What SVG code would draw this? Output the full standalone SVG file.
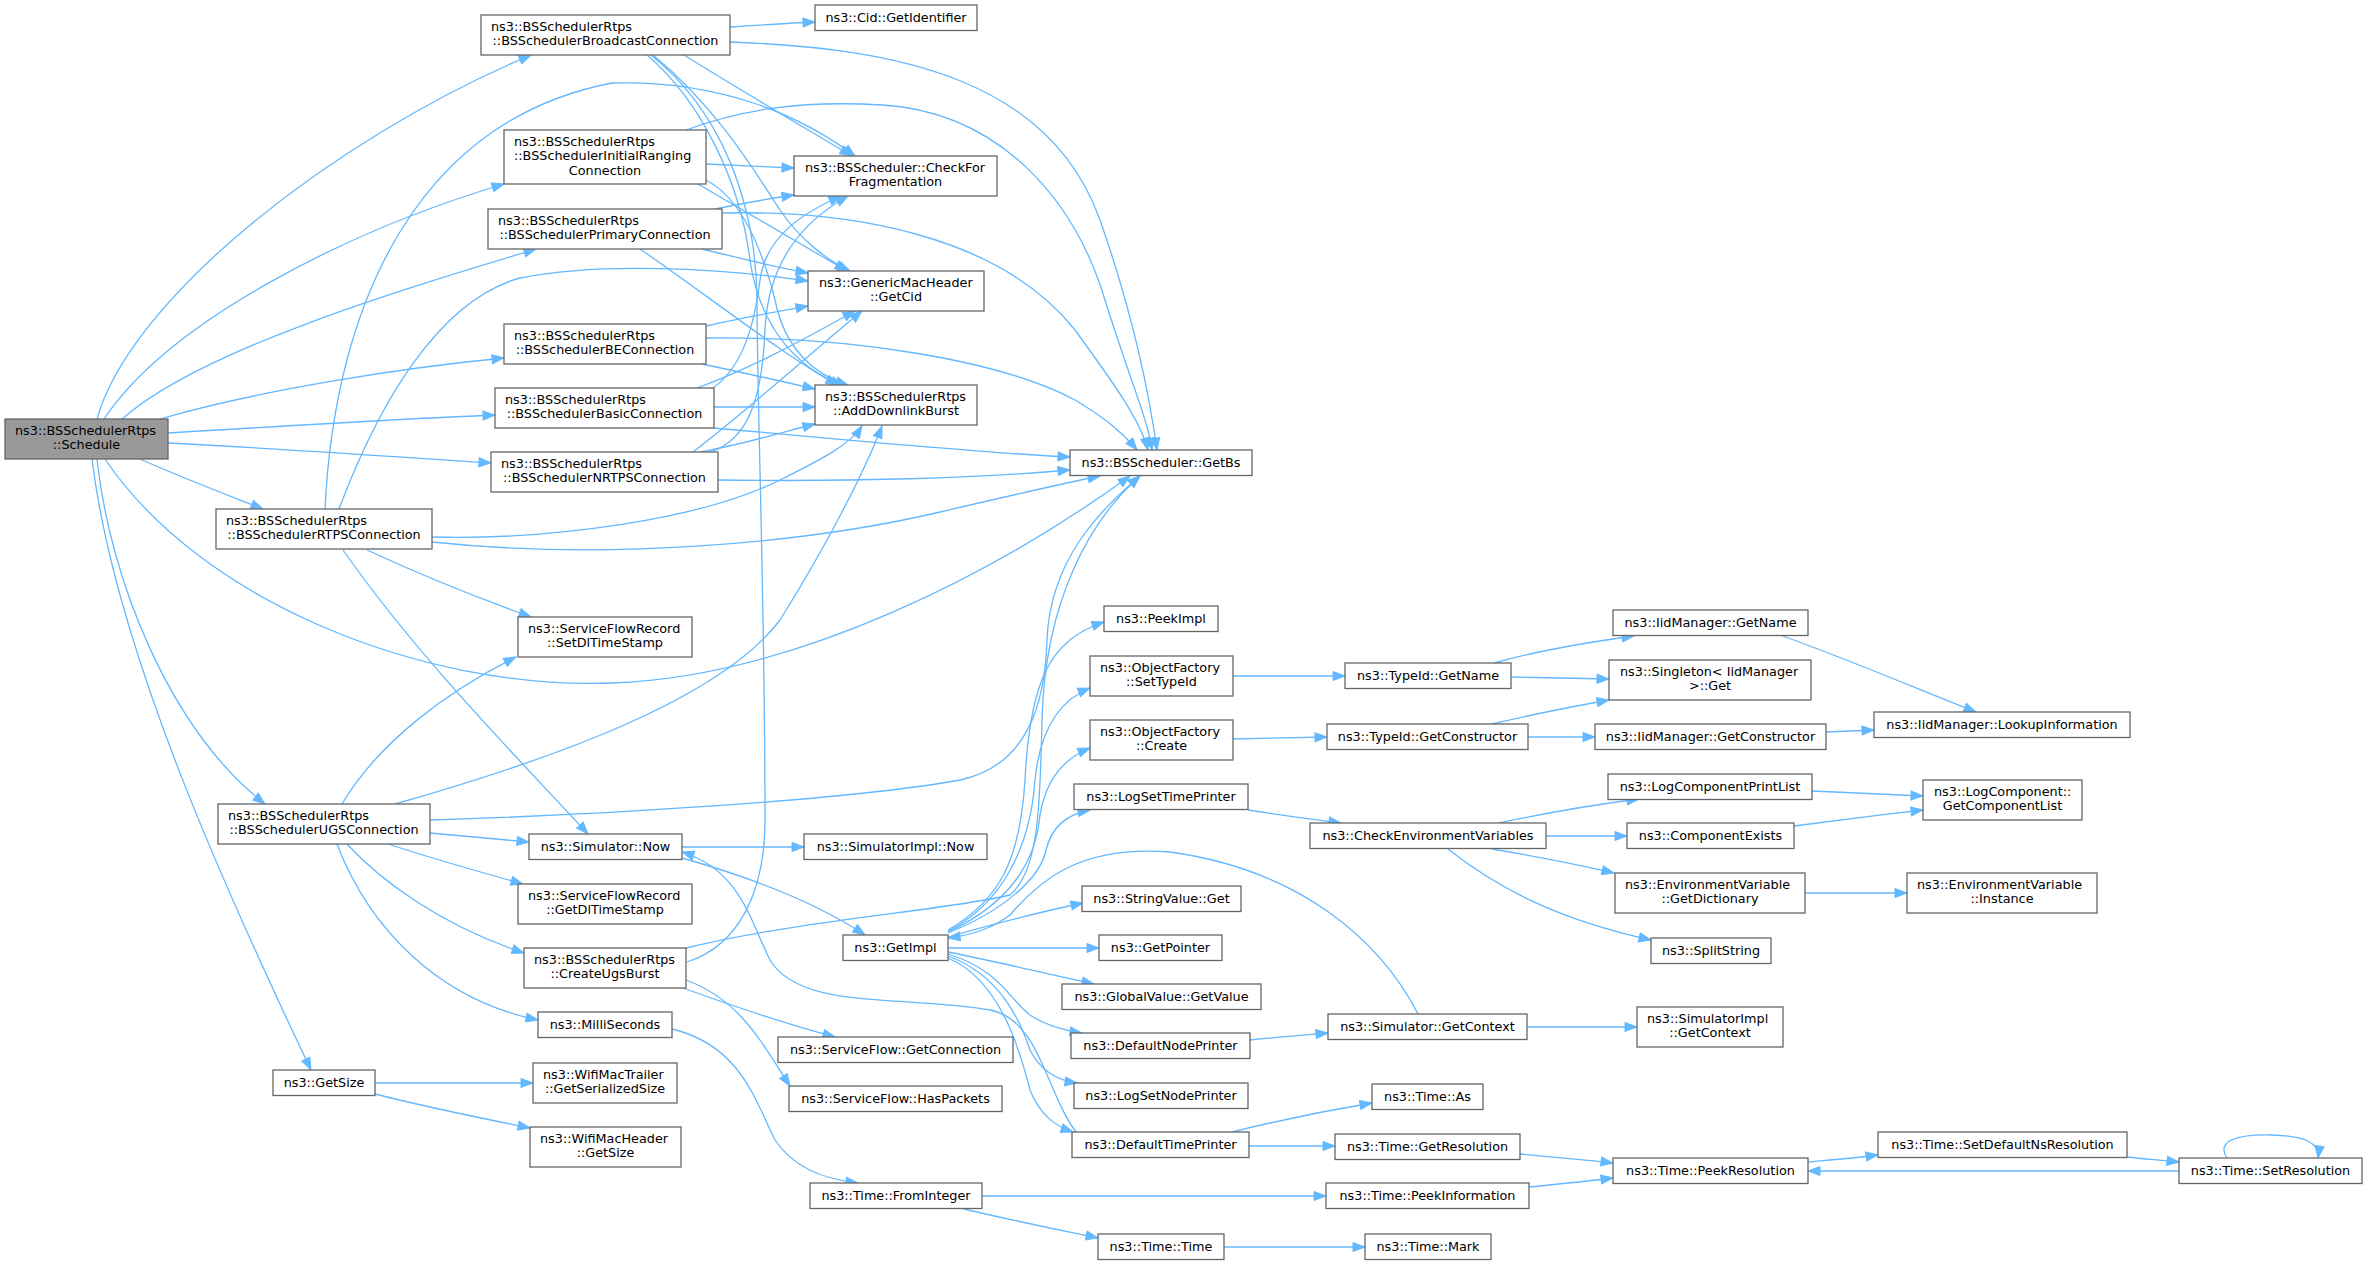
<svg xmlns="http://www.w3.org/2000/svg" width="2368" height="1264" viewBox="0 0 2368 1264">
<style>
.n rect{fill:#ffffff;stroke:#666666;stroke-width:1.3}
.n.root rect{fill:#999999}
.n text{font-family:"DejaVu Sans",sans-serif;font-size:12.8px;fill:#000000}
.n text.c{text-anchor:middle}
.e path{fill:none;stroke:#63b8ff;stroke-width:1.3;marker-end:url(#a)}
.e path.plain{marker-end:none}
</style>
<defs>
<marker id="a" markerUnits="userSpaceOnUse" viewBox="0 0 12 9" markerWidth="12" markerHeight="9" refX="12" refY="4.5" orient="auto" overflow="visible"><path d="M0,0 L12,4.5 L0,9 z" fill="#63b8ff" stroke="#63b8ff" stroke-width="1"/></marker>
</defs>
<rect width="2368" height="1264" fill="#ffffff"/>
<g id="edges" class="e">
<path d="M97,419 C130,300 330,140 531,55"/>
<path d="M104,419 C170,320 350,230 504,184"/>
<path d="M122,419 C200,350 400,290 536,249"/>
<path d="M160,419 C260,390 400,368 504,358"/>
<path d="M168,433 C300,425 400,419 495,415"/>
<path d="M168,443 C300,450 400,457 491,463"/>
<path d="M140,459 C180,477 225,494 263,509"/>
<path d="M97,459 C110,580 170,730 265,804"/>
<path d="M92,459 C115,650 230,900 311,1070"/>
<path d="M105,459 C200,600 420,690 612,683 C800,676 1000,570 1130,476"/>
<path d="M730,27 C760,25 790,23 815,22"/>
<path d="M730,42 C900,48 1050,80 1100,220 C1135,320 1150,400 1157,450"/>
<path d="M684,55 C740,90 800,125 852,156"/>
<path d="M653,55 C720,110 760,180 780,210 C800,240 830,262 850,271"/>
<path d="M647,55 C700,100 740,180 750,260 C760,330 800,370 843,385"/>
<path class="plain" d="M687,962 C740,945 765,890 765,820 C765,600 757,400 757,300 C756,200 720,110 651,55"/>
<path d="M706,164 L794,168"/>
<path d="M686,130 C740,110 800,100 882,105 C1000,112 1075,200 1105,300 C1130,380 1148,420 1152,450"/>
<path d="M698,184 C760,220 820,255 847,271"/>
<path d="M706,180 C745,200 765,260 775,300 C785,350 815,375 848,385"/>
<path d="M715,209 C740,204 765,199 794,195"/>
<path d="M722,213 C850,210 1000,235 1075,330 C1115,385 1140,420 1148,450"/>
<path d="M702,249 C740,258 770,266 808,273"/>
<path d="M640,249 C700,290 790,360 838,385"/>
<path d="M706,326 C740,318 775,312 808,306"/>
<path d="M706,338 C850,336 1000,360 1075,400 C1105,418 1122,432 1137,450"/>
<path d="M702,364 C740,372 780,381 815,389"/>
<path d="M713,388 C745,365 755,320 760,280 C766,235 805,212 841,196"/>
<path d="M697,388 C760,365 820,330 855,311"/>
<path d="M714,407 L815,407"/>
<path d="M714,428 C850,440 980,453 1070,457"/>
<path d="M710,452 C748,440 762,400 765,330 C768,260 805,220 848,196"/>
<path d="M693,452 C760,400 820,345 862,311"/>
<path d="M700,452 C740,445 780,433 815,424"/>
<path d="M718,480 C850,482 980,478 1070,470"/>
<path d="M325,509 C335,300 420,120 612,83 C720,80 800,115 855,156"/>
<path d="M339,509 C380,400 440,300 520,278 C600,262 720,268 808,281"/>
<path d="M432,537 C550,540 700,520 780,480 C820,460 850,445 862,426"/>
<path d="M432,542 C600,560 800,545 940,512 C1000,498 1060,484 1100,476"/>
<path d="M367,550 C410,570 470,595 531,617"/>
<path d="M343,550 C420,660 520,760 588,834"/>
<path d="M342,804 C380,740 450,690 516,657"/>
<path d="M395,804 C550,760 720,700 780,620 C830,540 865,470 882,426"/>
<path d="M430,820 C600,815 850,800 960,780 C1030,765 1045,700 1047,640 C1050,560 1100,510 1140,476"/>
<path d="M430,833 L529,842"/>
<path d="M388,844 C430,858 480,872 523,884"/>
<path d="M347,844 C380,880 440,925 524,953"/>
<path d="M337,844 C370,930 440,1000 538,1020"/>
<path d="M682,847 L804,847"/>
<path d="M682,858 C760,880 820,905 865,935"/>
<path d="M686,948 C800,920 950,910 1010,895 C1040,870 1040,800 1042,720 C1045,600 1090,520 1140,476"/>
<path d="M683,988 C730,1005 790,1025 835,1037"/>
<path d="M686,980 C740,1000 760,1040 790,1086"/>
<path d="M672,1029 C740,1045 755,1100 775,1140 C795,1170 830,1180 858,1183"/>
<path d="M375,1083 L533,1083"/>
<path d="M375,1094 C430,1108 480,1118 530,1128"/>
<path d="M948,930 C1000,900 1020,860 1025,780 C1030,680 1050,640 1104,622"/>
<path d="M948,931 C1000,905 1030,850 1035,780 C1040,730 1060,700 1090,688"/>
<path d="M948,932 C1000,908 1035,870 1040,815 C1045,785 1060,760 1090,748"/>
<path d="M948,933 C1000,912 1040,880 1046,850 C1052,825 1068,814 1090,810"/>
<path d="M948,937 C990,925 1040,912 1083,903"/>
<path d="M948,948 L1099,948"/>
<path d="M948,952 C1000,962 1050,975 1094,984"/>
<path d="M948,954 C1000,970 1010,1000 1030,1015 C1045,1025 1060,1030 1082,1033"/>
<path d="M948,956 C1000,975 1020,1020 1030,1050 C1040,1070 1055,1080 1077,1083"/>
<path d="M948,958 C1000,980 1020,1050 1030,1090 C1040,1115 1055,1126 1073,1132"/>
<path d="M1418,1014 C1380,940 1300,870 1170,852 C1080,845 1040,880 1010,915 C990,930 970,935 948,938"/>
<path d="M1076,1132 C1045,1090 1040,1020 990,1010 C900,995 800,1010 770,960 C750,920 740,870 682,852"/>
<path d="M1233,676 L1345,676"/>
<path d="M1233,739 L1327,737"/>
<path d="M1494,663 C1540,650 1590,642 1634,636"/>
<path d="M1511,677 L1609,679"/>
<path d="M1492,724 C1530,715 1570,707 1609,700"/>
<path d="M1528,737 L1595,737"/>
<path d="M1780,635 C1850,660 1920,690 1976,712"/>
<path d="M1826,732 L1874,730"/>
<path d="M1248,810 C1280,815 1310,819 1341,823"/>
<path d="M1499,823 C1550,812 1600,804 1639,799"/>
<path d="M1546,836 L1627,836"/>
<path d="M1492,849 C1540,857 1580,865 1614,873"/>
<path d="M1448,849 C1500,890 1560,920 1651,940"/>
<path d="M1812,791 L1923,796"/>
<path d="M1794,826 C1840,820 1880,815 1923,810"/>
<path d="M1805,893 L1907,893"/>
<path d="M1250,1040 C1280,1037 1305,1035 1328,1033"/>
<path d="M1527,1027 L1637,1027"/>
<path d="M1232,1132 C1280,1120 1330,1110 1372,1103"/>
<path d="M1249,1146 L1335,1146"/>
<path d="M1520,1154 C1560,1158 1590,1160 1613,1163"/>
<path d="M1529,1187 C1560,1184 1590,1181 1613,1178"/>
<path d="M982,1196 L1326,1196"/>
<path d="M964,1209 C1010,1220 1060,1230 1098,1238"/>
<path d="M1224,1247 L1365,1247"/>
<path d="M1808,1162 C1830,1160 1855,1158 1878,1155"/>
<path d="M2127,1157 C2145,1159 2160,1160 2179,1162"/>
<path d="M2179,1171 L1808,1171"/>
<path d="M2227,1158 C2215,1140 2240,1134 2272,1135 C2305,1136 2320,1143 2318,1158"/>
</g>
<g id="n_schedule" class="n root"><rect x="5" y="419" width="163" height="40"/><text x="15" y="434.7">ns3::BSSchedulerRtps</text><text class="c" x="86.5" y="449.3">::Schedule</text></g>
<g id="n_broadcast" class="n"><rect x="481" y="15" width="249" height="40"/><text x="491" y="30.7">ns3::BSSchedulerRtps</text><text class="c" x="605.5" y="45.3">::BSSchedulerBroadcastConnection</text></g>
<g id="n_initranging" class="n"><rect x="504" y="130" width="202" height="54"/><text x="514" y="145.7">ns3::BSSchedulerRtps</text><text x="514" y="160.3">::BSSchedulerInitialRanging</text><text class="c" x="605" y="175">Connection</text></g>
<g id="n_primary" class="n"><rect x="488" y="209" width="234" height="40"/><text x="498" y="224.7">ns3::BSSchedulerRtps</text><text class="c" x="605" y="239.3">::BSSchedulerPrimaryConnection</text></g>
<g id="n_be" class="n"><rect x="504" y="324" width="202" height="40"/><text x="514" y="339.7">ns3::BSSchedulerRtps</text><text class="c" x="605" y="354.3">::BSSchedulerBEConnection</text></g>
<g id="n_basic" class="n"><rect x="495" y="388" width="219" height="40"/><text x="505" y="403.7">ns3::BSSchedulerRtps</text><text class="c" x="604.5" y="418.3">::BSSchedulerBasicConnection</text></g>
<g id="n_nrtps" class="n"><rect x="491" y="452" width="227" height="40"/><text x="501" y="467.7">ns3::BSSchedulerRtps</text><text class="c" x="604.5" y="482.3">::BSSchedulerNRTPSConnection</text></g>
<g id="n_rtps" class="n"><rect x="216" y="509" width="216" height="40"/><text x="226" y="524.7">ns3::BSSchedulerRtps</text><text class="c" x="324" y="539.3">::BSSchedulerRTPSConnection</text></g>
<g id="n_ugs" class="n"><rect x="218" y="804" width="212" height="40"/><text x="228" y="819.7">ns3::BSSchedulerRtps</text><text class="c" x="324" y="834.3">::BSSchedulerUGSConnection</text></g>
<g id="n_setdl" class="n"><rect x="518" y="617" width="174" height="40"/><text x="528" y="632.7">ns3::ServiceFlowRecord</text><text class="c" x="605" y="647.3">::SetDlTimeStamp</text></g>
<g id="n_simnow" class="n"><rect x="529" y="834" width="153" height="25.5"/><text class="c" x="605.5" y="850.5">ns3::Simulator::Now</text></g>
<g id="n_getdl" class="n"><rect x="518" y="884" width="174" height="40"/><text x="528" y="899.7">ns3::ServiceFlowRecord</text><text class="c" x="605" y="914.3">::GetDlTimeStamp</text></g>
<g id="n_createugs" class="n"><rect x="524" y="948" width="162" height="40"/><text x="534" y="963.7">ns3::BSSchedulerRtps</text><text class="c" x="605" y="978.3">::CreateUgsBurst</text></g>
<g id="n_milli" class="n"><rect x="538" y="1012" width="134" height="25.5"/><text class="c" x="605" y="1028.5">ns3::MilliSeconds</text></g>
<g id="n_getsize" class="n"><rect x="273" y="1070" width="102" height="25.5"/><text class="c" x="324" y="1086.5">ns3::GetSize</text></g>
<g id="n_trailer" class="n"><rect x="533" y="1063" width="144" height="40"/><text x="543" y="1078.7">ns3::WifiMacTrailer</text><text class="c" x="605" y="1093.3">::GetSerializedSize</text></g>
<g id="n_header" class="n"><rect x="530" y="1127" width="151" height="40"/><text x="540" y="1142.7">ns3::WifiMacHeader</text><text class="c" x="605.5" y="1157.3">::GetSize</text></g>
<g id="n_cid" class="n"><rect x="815" y="5" width="162" height="25.5"/><text class="c" x="896" y="21.5">ns3::Cid::GetIdentifier</text></g>
<g id="n_checkfor" class="n"><rect x="794" y="156" width="203" height="40"/><text x="805" y="171.7">ns3::BSScheduler::CheckFor</text><text class="c" x="895.5" y="186.3">Fragmentation</text></g>
<g id="n_getcid" class="n"><rect x="808" y="271" width="176" height="40"/><text x="819" y="286.7">ns3::GenericMacHeader</text><text class="c" x="896" y="301.3">::GetCid</text></g>
<g id="n_adddl" class="n"><rect x="815" y="385" width="162" height="40"/><text x="825" y="400.7">ns3::BSSchedulerRtps</text><text class="c" x="896" y="415.3">::AddDownlinkBurst</text></g>
<g id="n_getbs" class="n"><rect x="1070" y="450" width="182" height="25.5"/><text class="c" x="1161" y="466.5">ns3::BSScheduler::GetBs</text></g>
<g id="n_peekimpl" class="n"><rect x="1104" y="606" width="114" height="25.5"/><text class="c" x="1161" y="622.5">ns3::PeekImpl</text></g>
<g id="n_settypeid" class="n"><rect x="1090" y="656" width="143" height="40"/><text x="1100" y="671.7">ns3::ObjectFactory</text><text class="c" x="1161.5" y="686.3">::SetTypeId</text></g>
<g id="n_create" class="n"><rect x="1090" y="720" width="143" height="40"/><text x="1100" y="735.7">ns3::ObjectFactory</text><text class="c" x="1161.5" y="750.3">::Create</text></g>
<g id="n_logsettime" class="n"><rect x="1074" y="784" width="174" height="25.5"/><text class="c" x="1161" y="800.5">ns3::LogSetTimePrinter</text></g>
<g id="n_simimplnow" class="n"><rect x="804" y="834" width="183" height="25.5"/><text class="c" x="895.5" y="850.5">ns3::SimulatorImpl::Now</text></g>
<g id="n_stringget" class="n"><rect x="1082" y="886" width="159" height="25.5"/><text class="c" x="1161.5" y="902.5">ns3::StringValue::Get</text></g>
<g id="n_getimpl" class="n"><rect x="843" y="935" width="105" height="25.5"/><text class="c" x="895.5" y="951.5">ns3::GetImpl</text></g>
<g id="n_getpointer" class="n"><rect x="1099" y="935" width="123" height="25.5"/><text class="c" x="1160.5" y="951.5">ns3::GetPointer</text></g>
<g id="n_getvalue" class="n"><rect x="1062" y="984" width="199" height="25.5"/><text class="c" x="1161.5" y="1000.5">ns3::GlobalValue::GetValue</text></g>
<g id="n_getconn" class="n"><rect x="778" y="1037" width="235" height="25.5"/><text class="c" x="895.5" y="1053.5">ns3::ServiceFlow::GetConnection</text></g>
<g id="n_haspackets" class="n"><rect x="789" y="1086" width="213" height="25.5"/><text class="c" x="895.5" y="1102.5">ns3::ServiceFlow::HasPackets</text></g>
<g id="n_defnode" class="n"><rect x="1071" y="1033" width="179" height="25.5"/><text class="c" x="1160.5" y="1049.5">ns3::DefaultNodePrinter</text></g>
<g id="n_getcontext" class="n"><rect x="1328" y="1014" width="199" height="25.5"/><text class="c" x="1427.5" y="1030.5">ns3::Simulator::GetContext</text></g>
<g id="n_logsetnode" class="n"><rect x="1074" y="1083" width="174" height="25.5"/><text class="c" x="1161" y="1099.5">ns3::LogSetNodePrinter</text></g>
<g id="n_timeas" class="n"><rect x="1372" y="1084" width="111" height="25.5"/><text class="c" x="1427.5" y="1100.5">ns3::Time::As</text></g>
<g id="n_deftime" class="n"><rect x="1072" y="1132" width="177" height="25.5"/><text class="c" x="1160.5" y="1148.5">ns3::DefaultTimePrinter</text></g>
<g id="n_getres" class="n"><rect x="1335" y="1134" width="185" height="25.5"/><text class="c" x="1427.5" y="1150.5">ns3::Time::GetResolution</text></g>
<g id="n_frominteger" class="n"><rect x="810" y="1183" width="172" height="25.5"/><text class="c" x="896" y="1199.5">ns3::Time::FromInteger</text></g>
<g id="n_peekinfo" class="n"><rect x="1326" y="1183" width="203" height="25.5"/><text class="c" x="1427.5" y="1199.5">ns3::Time::PeekInformation</text></g>
<g id="n_timetime" class="n"><rect x="1098" y="1234" width="126" height="25.5"/><text class="c" x="1161" y="1250.5">ns3::Time::Time</text></g>
<g id="n_timemark" class="n"><rect x="1365" y="1234" width="126" height="25.5"/><text class="c" x="1428" y="1250.5">ns3::Time::Mark</text></g>
<g id="n_tidgetname" class="n"><rect x="1345" y="663" width="166" height="25.5"/><text class="c" x="1428" y="679.5">ns3::TypeId::GetName</text></g>
<g id="n_tidgetctor" class="n"><rect x="1327" y="724" width="201" height="25.5"/><text class="c" x="1427.5" y="740.5">ns3::TypeId::GetConstructor</text></g>
<g id="n_checkenv" class="n"><rect x="1310" y="823" width="236" height="25.5"/><text class="c" x="1428" y="839.5">ns3::CheckEnvironmentVariables</text></g>
<g id="n_iidgetname" class="n"><rect x="1613" y="610" width="195" height="25.5"/><text class="c" x="1710.5" y="626.5">ns3::IidManager::GetName</text></g>
<g id="n_singleton" class="n"><rect x="1609" y="660" width="202" height="40"/><text x="1620" y="675.7">ns3::Singleton&lt; IidManager</text><text class="c" x="1710" y="690.3">&gt;::Get</text></g>
<g id="n_iidgetctor" class="n"><rect x="1595" y="724" width="231" height="25.5"/><text class="c" x="1710.5" y="740.5">ns3::IidManager::GetConstructor</text></g>
<g id="n_lookup" class="n"><rect x="1874" y="712" width="256" height="25.5"/><text class="c" x="2002" y="728.5">ns3::IidManager::LookupInformation</text></g>
<g id="n_logprint" class="n"><rect x="1608" y="774" width="204" height="25.5"/><text class="c" x="1710" y="790.5">ns3::LogComponentPrintList</text></g>
<g id="n_getcomplist" class="n"><rect x="1923" y="780" width="159" height="40"/><text x="1934" y="795.7">ns3::LogComponent::</text><text class="c" x="2002.5" y="810.3">GetComponentList</text></g>
<g id="n_compexists" class="n"><rect x="1627" y="823" width="167" height="25.5"/><text class="c" x="1710.5" y="839.5">ns3::ComponentExists</text></g>
<g id="n_getdict" class="n"><rect x="1615" y="873" width="190" height="40"/><text x="1625" y="888.7">ns3::EnvironmentVariable</text><text class="c" x="1710" y="903.3">::GetDictionary</text></g>
<g id="n_instance" class="n"><rect x="1907" y="873" width="190" height="40"/><text x="1917" y="888.7">ns3::EnvironmentVariable</text><text class="c" x="2002" y="903.3">::Instance</text></g>
<g id="n_splitstring" class="n"><rect x="1651" y="938" width="120" height="25.5"/><text class="c" x="1711" y="954.5">ns3::SplitString</text></g>
<g id="n_simimplctx" class="n"><rect x="1637" y="1007" width="146" height="40"/><text x="1647" y="1022.7">ns3::SimulatorImpl</text><text class="c" x="1710" y="1037.3">::GetContext</text></g>
<g id="n_peekres" class="n"><rect x="1613" y="1158" width="195" height="25.5"/><text class="c" x="1710.5" y="1174.5">ns3::Time::PeekResolution</text></g>
<g id="n_setdefns" class="n"><rect x="1878" y="1132" width="249" height="25.5"/><text class="c" x="2002.5" y="1148.5">ns3::Time::SetDefaultNsResolution</text></g>
<g id="n_setres" class="n"><rect x="2179" y="1158" width="183" height="25.5"/><text class="c" x="2270.5" y="1174.5">ns3::Time::SetResolution</text></g>
</svg>
